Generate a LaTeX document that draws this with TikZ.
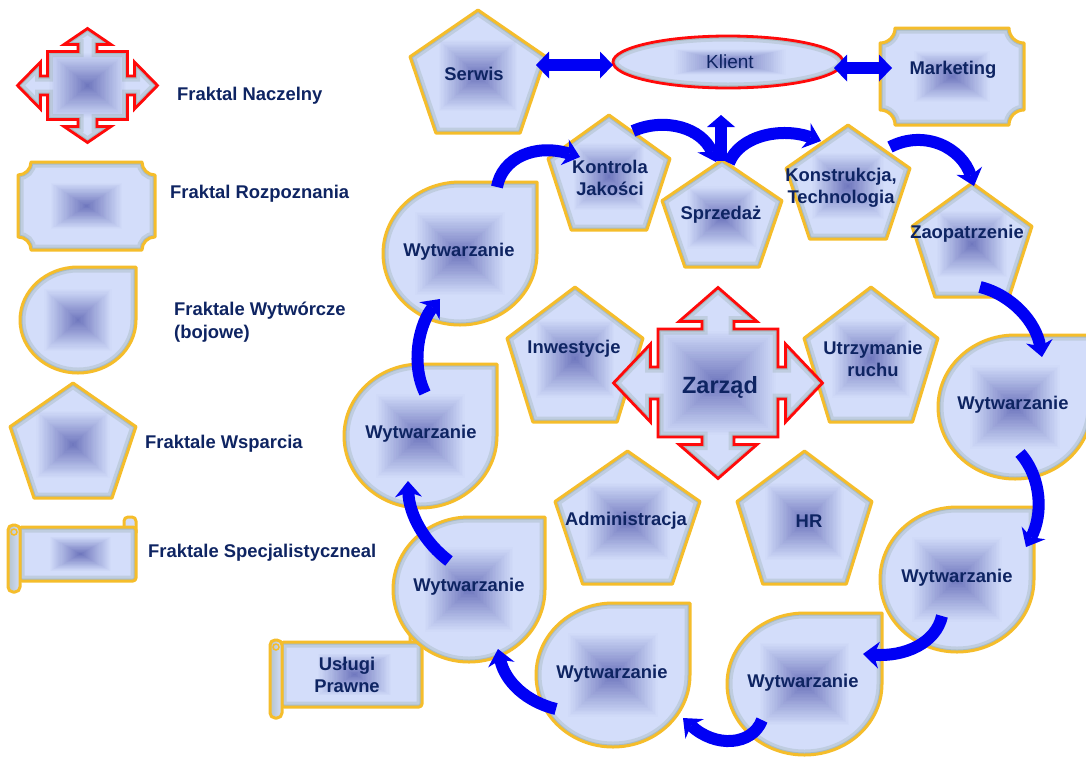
\documentclass[tikz,border=0pt]{standalone}
\usepackage{fontspec}
\setmainfont{Liberation Sans}
\usetikzlibrary{arrows.meta}
\definecolor{basefill}{HTML}{D3DDFA}
\definecolor{midblue}{HTML}{7078BE}
\definecolor{edgeshade}{HTML}{86A096}
\definecolor{goldc}{HTML}{F5BD2B}
\definecolor{redc}{HTML}{FF0A0A}
\definecolor{navy}{HTML}{0E2462}
\definecolor{arrowblue}{HTML}{0000F5}
\definecolor{barfill}{HTML}{B4C4CC}

\tikzset{
 goldline/.style={draw=goldc, line width=3pt, line join=round},
 redline/.style={draw=redc, line width=2.8pt, line join=miter},
 lbl/.style={text=navy, font=\bfseries\fontsize{18.4}{22}\selectfont, align=center, inner sep=0pt},
 leg/.style={text=navy, font=\bfseries\fontsize{18.4}{22.5}\selectfont, align=left, anchor=west, inner sep=0pt},
 flow/.style={draw=arrowblue, line width=12pt, -{Stealth[length=16pt,width=27pt,inset=5pt,line width=0pt]}},
 dbl/.style={draw=arrowblue, line width=12pt, {Triangle[length=13pt,width=27pt,line width=0pt]}-{Triangle[length=13pt,width=27pt,line width=0pt]}},
 uparr/.style={draw=arrowblue, line width=12pt, -{Triangle[length=12pt,width=28pt,line width=0pt]}},
}

% #1 path, #2 border style, #3 cx, #4 cy, #5 half-w of shade, #6 half-h of shade
\newcommand\fractal[6]{%
 \begin{scope}
  \clip #1;
  \fill[basefill] #1;
  \foreach \kk in {0,...,29}{%
    \pgfmathsetmacro\ffac{1-\kk/30}%
    \pgfmathtruncatemacro\ppc{100*\kk/29}%
    \fill[midblue!\ppc!basefill] ({#3-\ffac*#5},{#4-\ffac*#6}) rectangle ({#3+\ffac*#5},{#4+\ffac*#6});
  }
  \draw[edgeshade, line width=11pt, opacity=0.25] #1;
  \draw[edgeshade, line width=5pt, opacity=0.4] #1;
 \end{scope}
 \draw[#2] #1;
}
% pentagon: x0 x1 y0 y1
\newcommand\pentfrac[4]{%
 \fractal{({(#1+#2)/2},#3) -- (#2,{#3+0.38*(#4-#3)}) -- ({(#1+#2)/2+0.31*(#2-#1)},#4) -- ({(#1+#2)/2-0.31*(#2-#1)},#4) -- (#1,{#3+0.38*(#4-#3)}) -- cycle}{goldline}{(#1+#2)/2}{(#3+#4)/2+4}{0.3*(#2-#1)}{0.3*(#4-#3)}}
% teardrop: x0 x1 y0 y1
\newcommand\tearfrac[4]{%
 \fractal{(#2,#3) -- (#2,{(#3+#4)/2}) arc[start angle=0,end angle=180,x radius={(#2-#1)/2},y radius={(#4-#3)/2}] arc[start angle=180,end angle=270,x radius={(#2-#1)/2},y radius={(#4-#3)/2}] -- cycle}{goldline}{(#1+#2)/2}{(#3+#4)/2}{0.3*(#2-#1)}{0.3*(#4-#3)}}
% plaque: x0 x1 y0 y1 r
\newcommand\plaquefrac[5]{%
 \fractal{({#1+#5},#3) -- ({#2-#5},#3) arc[start angle=180,end angle=90,radius=#5] -- (#2,{#4-#5}) arc[start angle=-90,end angle=-180,radius=#5] -- ({#1+#5},#4) arc[start angle=0,end angle=-90,radius=#5] -- (#1,{#3+#5}) arc[start angle=90,end angle=0,radius=#5] -- cycle}{goldline}{(#1+#2)/2}{(#3+#4)/2}{0.27*(#2-#1)}{0.27*(#4-#3)}}
% cross: cx cy hw hh nh nl ah hlv hlh
\newcommand\crossfrac[9]{%
 \fractal{({#1-#3},{#2-#4}) -- ({#1-#5},{#2-#4}) -- ({#1-#5},{#2-#4-#6}) -- ({#1-#7},{#2-#4-#6}) -- (#1,{#2-#4-#6-#8}) -- ({#1+#7},{#2-#4-#6}) -- ({#1+#5},{#2-#4-#6}) -- ({#1+#5},{#2-#4}) -- ({#1+#3},{#2-#4}) -- ({#1+#3},{#2-#5}) -- ({#1+#3+#6},{#2-#5}) -- ({#1+#3+#6},{#2-#7}) -- ({#1+#3+#6+#9},#2) -- ({#1+#3+#6},{#2+#7}) -- ({#1+#3+#6},{#2+#5}) -- ({#1+#3},{#2+#5}) -- ({#1+#3},{#2+#4}) -- ({#1+#5},{#2+#4}) -- ({#1+#5},{#2+#4+#6}) -- ({#1+#7},{#2+#4+#6}) -- (#1,{#2+#4+#6+#8}) -- ({#1-#7},{#2+#4+#6}) -- ({#1-#5},{#2+#4+#6}) -- ({#1-#5},{#2+#4}) -- ({#1-#3},{#2+#4}) -- ({#1-#3},{#2+#5}) -- ({#1-#3-#6},{#2+#5}) -- ({#1-#3-#6},{#2+#7}) -- ({#1-#3-#6-#9},#2) -- ({#1-#3-#6},{#2-#7}) -- ({#1-#3-#6},{#2-#5}) -- ({#1-#3},{#2-#5}) -- cycle}{redline}{#1}{#2}{#3}{#4}}
% scroll: x0 x1 y0 y1 (main body)
\newcommand\scrollfrac[4]{%
 \draw[goldline, fill=basefill, rounded corners=4pt] ({#2-12},{#3+6}) -- ({#2-12},{#3-10}) -- (#2,{#3-10}) -- (#2,{#3+6});
 \fractal{[rounded corners=3pt] (#1,#3) rectangle (#2,#4)}{goldline}{(#1+#2)/2+3}{(#3+#4)/2}{0.27*(#2-#1)}{0.33*(#4-#3)}
 \draw[goldline, left color=barfill, right color=basefill, rounded corners=5pt] ({#1-11},{#3-2}) rectangle ({#1+1},{#4+11});
 \draw[goldc, line width=1.5pt] ({#1-5},{#3+5}) circle[radius=3];
}

\begin{document}
\begin{tikzpicture}[x=1pt,y=-1pt]
\useasboundingbox (0,0) rectangle (1086,756);
\fill[white] (0,0) rectangle (1086,756);
\clip (0,0) rectangle (1086,756);

% ---------- legend ----------
\crossfrac{87.5}{85.5}{40}{34}{9.5}{7}{23.5}{16}{23}
\plaquefrac{18}{155}{162}{250}{13}
\tearfrac{20}{136}{267}{373}
\pentfrac{10}{136}{383}{498}
\scrollfrac{19}{136}{527}{581}

\node[leg] (lnacz) at (177,96) {Fraktal Naczelny};
\node[leg] (lrozp) at (170,194) {Fraktal Rozpoznania};
\node[leg] (lwyt) at (174,322) {Fraktale Wytwórcze\\(bojowe)};
\node[leg] (lwsp) at (145,444) {Fraktale Wsparcia};
\node[leg] (lspec) at (148,553) {Fraktale Specjalistyczneal};

% ---------- top row ----------
\pentfrac{410}{546}{10}{133}
\fractal{(728,62) ellipse[x radius=115,y radius=26]}{redline}{730}{62}{58}{13}
\plaquefrac{880}{1024}{28}{125}{15}

% ---------- ring of support fractals ----------
\pentfrac{548}{670}{115}{230}
\pentfrac{662}{782}{160}{267}
\pentfrac{786}{910}{125}{239}
\pentfrac{912}{1032}{183}{297}

% ---------- production fractals ----------
\scrollfrac{281}{422}{642}{707}
\tearfrac{383}{537}{182}{325}
\tearfrac{344}{497}{364}{508}
\tearfrac{393}{545}{517}{662}
\tearfrac{536}{690}{603}{747}
\tearfrac{727}{882}{613}{755}
\tearfrac{880}{1034}{507}{652}
\tearfrac{938}{1092}{335}{479}

% ---------- centre ----------
\pentfrac{507}{643}{287}{422}
\pentfrac{804}{938}{287}{422}
\pentfrac{555}{700}{451}{584}
\pentfrac{737}{872}{451}{584}
\crossfrac{718}{383}{60}{54}{16}{7.5}{39}{34}{37}

% ---------- labels ----------
\node[lbl] (serwis) at (474,74) {Serwis};
\node[text=navy, font=\fontsize{19}{22}\selectfont, inner sep=0pt] (klient) at (730,62) {Klient};
\node[lbl] (marketing) at (953,70) {Marketing};
\node[lbl] (kontrola) at (610,178) {Kontrola\\Jakości};
\node[lbl] (sprzedaz) at (721,215) {Sprzedaż};
\node[lbl] (konstr) at (841,188) {Konstrukcja,\\Technologia};
\node[lbl] (zaop) at (967,234) {Zaopatrzenie};
\node[lbl] (inwest) at (574,349) {Inwestycje};
\node[lbl] (utrzym) at (873,359) {Utrzymanie\\ruchu};
\node[text=navy, font=\bfseries\fontsize{23.5}{26}\selectfont, inner sep=0pt] (zarzad) at (720,387) {Zarząd};
\node[lbl] (admin) at (626,521) {Administracja};
\node[lbl] (hr) at (809,521) {HR};
\node[lbl] (uslugi) at (347,675) {Usługi\\Prawne};
\node[lbl] (w1) at (459,252) {Wytwarzanie};
\node[lbl] (w2) at (421,434) {Wytwarzanie};
\node[lbl] (w3) at (469,587) {Wytwarzanie};
\node[lbl] (w4) at (612,674) {Wytwarzanie};
\node[lbl] (w5) at (803,683) {Wytwarzanie};
\node[lbl] (w6) at (957,578) {Wytwarzanie};
\node[lbl] (w7) at (1013,405) {Wytwarzanie};

% ---------- connectors ----------
\coordinate (d1s) at (536,65); \coordinate (d1e) at (613,65);
\coordinate (d2s) at (834,68); \coordinate (d2e) at (892,68);
\draw[dbl] (d1s) -- (d1e);
\draw[dbl] (d2s) -- (d2e);

\coordinate (a1s) at (497,187); \coordinate (a1e) at (580,157);
\coordinate (a2s) at (633,131); \coordinate (a2e) at (716,162);
\coordinate (a3s) at (721,161); \coordinate (a3e) at (721,115);
\coordinate (a4s) at (729,163); \coordinate (a4e) at (821,141);
\coordinate (a5s) at (890,147); \coordinate (a5e) at (974,186);
\coordinate (a6s) at (980,287); \coordinate (a6e) at (1042,357);
\coordinate (a7s) at (1020,453); \coordinate (a7e) at (1026,547);
\coordinate (a8s) at (942,616); \coordinate (a8e) at (863,654);
\coordinate (a9s) at (762,720); \coordinate (a9e) at (683,718);
\coordinate (a10s) at (556,709); \coordinate (a10e) at (498,649);
\coordinate (a11s) at (449,561); \coordinate (a11e) at (408,481);
\coordinate (a12s) at (425,393); \coordinate (a12e) at (440,299);

\draw[flow] (a1s) .. controls (502,158) and (535,143) .. (a1e);
\draw[flow] (a2s) .. controls (665,117) and (702,128) .. (a2e);
\draw[uparr] (a3s) -- (a3e);
\draw[flow] (a4s) .. controls (740,135) and (782,127) .. (a4e);
\draw[flow] (a5s) .. controls (925,129) and (962,148) .. (a5e);
\draw[flow] (a6s) .. controls (1012,295) and (1036,322) .. (a6e);
\draw[flow] (a7s) .. controls (1042,478) and (1043,515) .. (a7e);
\draw[flow] (a8s) .. controls (936,643) and (905,657) .. (a8e);
\draw[flow] (a9s) .. controls (752,746) and (715,748) .. (a9e);
\draw[flow] (a10s) .. controls (527,702) and (505,682) .. (a10e);
\draw[flow] (a11s) .. controls (425,543) and (409,515) .. (a11e);
\draw[flow] (a12s) .. controls (410,362) and (420,322) .. (a12e);
\end{tikzpicture}
\end{document}
